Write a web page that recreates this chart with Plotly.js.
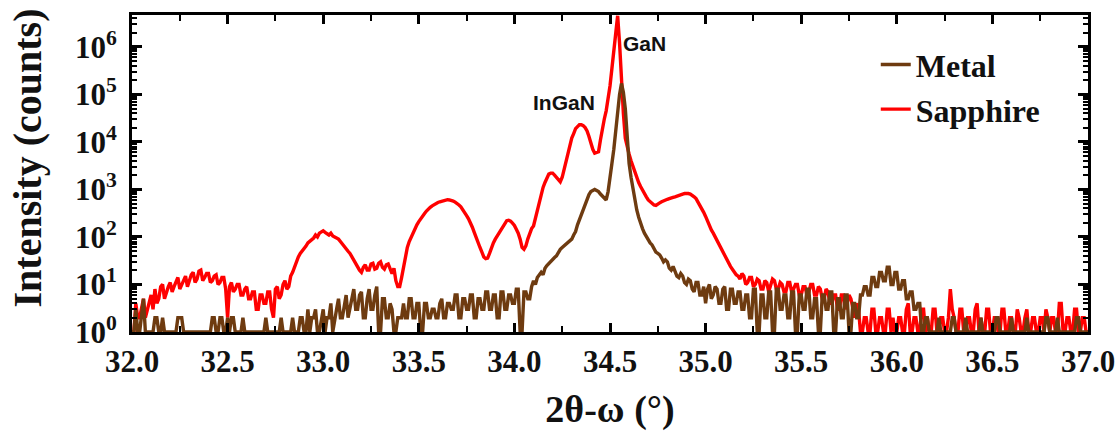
<!DOCTYPE html>
<html>
<head>
<meta charset="utf-8">
<script src="https://cdn.plot.ly/plotly-3.0.1.min.js"></script>
<style>
html,body{margin:0;padding:0;background:#fff;}
#chart{width:1117px;height:433px;}
</style>
</head>
<body>
<div id="chart"></div>
<script>
// 2theta-omega scan angles (deg), 0.01 deg step
const twoTheta = [
32.00,32.01,32.02,32.03,32.04,32.05,32.06,32.07,32.08,32.09,32.10,32.11,32.12,32.13,32.14,32.15,32.16,32.17,32.18,32.19,
32.20,32.21,32.22,32.23,32.24,32.25,32.26,32.27,32.28,32.29,32.30,32.31,32.32,32.33,32.34,32.35,32.36,32.37,32.38,32.39,
32.40,32.41,32.42,32.43,32.44,32.45,32.46,32.47,32.48,32.49,32.50,32.51,32.52,32.53,32.54,32.55,32.56,32.57,32.58,32.59,
32.60,32.61,32.62,32.63,32.64,32.65,32.66,32.67,32.68,32.69,32.70,32.71,32.72,32.73,32.74,32.75,32.76,32.77,32.78,32.79,
32.80,32.81,32.82,32.83,32.84,32.85,32.86,32.87,32.88,32.89,32.90,32.91,32.92,32.93,32.94,32.95,32.96,32.97,32.98,32.99,
33.00,33.01,33.02,33.03,33.04,33.05,33.06,33.07,33.08,33.09,33.10,33.11,33.12,33.13,33.14,33.15,33.16,33.17,33.18,33.19,
33.20,33.21,33.22,33.23,33.24,33.25,33.26,33.27,33.28,33.29,33.30,33.31,33.32,33.33,33.34,33.35,33.36,33.37,33.38,33.39,
33.40,33.41,33.42,33.43,33.44,33.45,33.46,33.47,33.48,33.49,33.50,33.51,33.52,33.53,33.54,33.55,33.56,33.57,33.58,33.59,
33.60,33.61,33.62,33.63,33.64,33.65,33.66,33.67,33.68,33.69,33.70,33.71,33.72,33.73,33.74,33.75,33.76,33.77,33.78,33.79,
33.80,33.81,33.82,33.83,33.84,33.85,33.86,33.87,33.88,33.89,33.90,33.91,33.92,33.93,33.94,33.95,33.96,33.97,33.98,33.99,
34.00,34.01,34.02,34.03,34.04,34.05,34.06,34.07,34.08,34.09,34.10,34.11,34.12,34.13,34.14,34.15,34.16,34.17,34.18,34.19,
34.20,34.21,34.22,34.23,34.24,34.25,34.26,34.27,34.28,34.29,34.30,34.31,34.32,34.33,34.34,34.35,34.36,34.37,34.38,34.39,
34.40,34.41,34.42,34.43,34.44,34.45,34.46,34.47,34.48,34.49,34.50,34.51,34.52,34.53,34.54,34.55,34.56,34.57,34.58,34.59,
34.60,34.61,34.62,34.63,34.64,34.65,34.66,34.67,34.68,34.69,34.70,34.71,34.72,34.73,34.74,34.75,34.76,34.77,34.78,34.79,
34.80,34.81,34.82,34.83,34.84,34.85,34.86,34.87,34.88,34.89,34.90,34.91,34.92,34.93,34.94,34.95,34.96,34.97,34.98,34.99,
35.00,35.01,35.02,35.03,35.04,35.05,35.06,35.07,35.08,35.09,35.10,35.11,35.12,35.13,35.14,35.15,35.16,35.17,35.18,35.19,
35.20,35.21,35.22,35.23,35.24,35.25,35.26,35.27,35.28,35.29,35.30,35.31,35.32,35.33,35.34,35.35,35.36,35.37,35.38,35.39,
35.40,35.41,35.42,35.43,35.44,35.45,35.46,35.47,35.48,35.49,35.50,35.51,35.52,35.53,35.54,35.55,35.56,35.57,35.58,35.59,
35.60,35.61,35.62,35.63,35.64,35.65,35.66,35.67,35.68,35.69,35.70,35.71,35.72,35.73,35.74,35.75,35.76,35.77,35.78,35.79,
35.80,35.81,35.82,35.83,35.84,35.85,35.86,35.87,35.88,35.89,35.90,35.91,35.92,35.93,35.94,35.95,35.96,35.97,35.98,35.99,
36.00,36.01,36.02,36.03,36.04,36.05,36.06,36.07,36.08,36.09,36.10,36.11,36.12,36.13,36.14,36.15,36.16,36.17,36.18,36.19,
36.20,36.21,36.22,36.23,36.24,36.25,36.26,36.27,36.28,36.29,36.30,36.31,36.32,36.33,36.34,36.35,36.36,36.37,36.38,36.39,
36.40,36.41,36.42,36.43,36.44,36.45,36.46,36.47,36.48,36.49,36.50,36.51,36.52,36.53,36.54,36.55,36.56,36.57,36.58,36.59,
36.60,36.61,36.62,36.63,36.64,36.65,36.66,36.67,36.68,36.69,36.70,36.71,36.72,36.73,36.74,36.75,36.76,36.77,36.78,36.79,
36.80,36.81,36.82,36.83,36.84,36.85,36.86,36.87,36.88,36.89,36.90,36.91,36.92,36.93,36.94,36.95,36.96,36.97,36.98,36.99,
37.00];

// Intensity (counts) – Sapphire substrate
const sapphireCounts = [
1,1,4,2,2,3,5,2,3,4,6,3,8,4,5,9,10,5,7,9,
11,7,9,12,14,8,10,13,15,9,12,16,18,11,13,19,20,12,14,17,
17,11,12,15,16,10,11,14,14,8,2,9,11,7,8,10,10,6,6,8,
9,5,5,7,7,3,3,6,6,4,4,7,7,3,2,8,9,5,6,10,
12,8,9,15,18,24,32,38,45,50,55,64,75,80,85,95,110,100,120,130,
135,125,118,110,120,105,100,95,90,80,70,62,55,50,45,38,32,27,24,20,
18,23,26,20,20,27,28,21,22,28,30,23,21,26,27,20,17,22,12,9,
9,14,22,40,60,80,100,125,150,180,210,245,280,310,350,390,420,450,480,510,
530,550,570,590,600,610,600,590,570,540,510,470,430,380,330,280,240,200,160,125,
95,75,60,48,38,35,36,45,62,75,90,105,120,145,170,195,220,225,215,195,
175,145,120,90,60,55,65,90,120,150,170,250,380,550,800,1100,1400,1800,2100,2200,
2200,2000,1800,1600,1450,1800,2600,4000,6000,9000,12000,15000,19000,21000,23000,23000,22000,20000,17000,13000,
9000,7000,5800,5900,6200,11000,20000,30000,45000,80000,150000,350000,900000,2000000,4500000,1200000,150000,40000,12000,7500,
5500,4000,3000,2300,1800,1400,1150,950,800,700,600,550,500,470,460,480,520,550,580,600,
620,640,650,680,700,730,760,780,800,820,830,820,800,760,700,640,550,480,400,330,
270,210,170,140,120,100,85,70,55,48,40,33,28,24,21,18,16,15,13,17,
15,10,11,14,14,9,10,13,12,8,8,12,11,7,9,13,12,8,8,11,
10,7,7,11,11,7,8,10,10,6,6,9,9,6,7,10,10,6,6,9,
8,5,5,8,7,4,4,6,6,3,3,6,6,3,4,6,5,3,2,4,
3,1,1,2,2,1,1,3,3,1,1,2,2,1,1,3,3,1,2,1,
1,2,2,1,1,3,4,1,1,2,2,1,1,3,3,1,2,1,1,3,
3,1,1,2,2,1,1,2,8,3,2,1,1,3,3,1,1,2,2,1,
1,3,4,1,2,1,1,3,3,1,1,2,2,1,1,3,3,1,1,2,
2,1,1,3,2,1,1,2,3,1,1,2,2,1,1,2,2,1,3,2,
1,2,2,1,1,4,4,1,1,2,2,1,1,3,3,1,1,2,2,1,
1];

// Intensity (counts) – Metal substrate
const metalCounts = [
1,1,3,1,1,2,5,1,1,1,1,1,2,2,1,1,2,1,1,1,
1,1,1,1,2,2,2,1,1,1,1,1,1,1,1,1,1,1,1,1,
1,1,2,2,1,1,2,2,1,1,2,1,2,2,1,1,1,1,2,1,
1,1,1,1,1,1,1,1,1,1,2,1,1,1,1,1,1,1,2,1,
1,1,1,1,2,1,1,1,2,2,1,1,3,1,2,2,3,1,1,2,
3,1,2,2,4,1,2,3,5,2,2,4,6,2,3,5,8,3,3,6,
7,2,2,5,8,3,3,6,9,1,1,5,5,2,2,4,3,1,1,2,
2,2,4,2,2,5,5,2,2,4,4,1,1,4,4,2,2,3,3,2,
2,4,5,2,2,4,4,3,3,6,6,2,2,5,5,3,3,6,6,2,
2,5,5,3,3,7,7,3,3,6,6,2,2,7,7,3,3,6,6,4,
4,8,8,1,1,7,7,5,5,9,12,10,14,16,18,16,22,25,28,30,
34,37,40,48,55,60,65,70,75,82,90,110,130,180,230,310,400,500,620,780,
900,960,1000,950,900,800,720,650,600,900,1600,3500,7000,18000,45000,100000,170000,110000,50000,12000,
3500,1800,1000,600,370,260,190,150,120,100,85,75,68,58,48,45,42,36,30,33,
30,22,20,24,19,15,14,17,15,11,10,13,12,8,7,11,11,6,6,9,
4,8,10,5,6,9,8,4,4,8,9,3,3,8,8,4,4,7,7,3,
3,6,6,2,2,8,8,1,1,6,6,2,2,7,7,1,1,8,8,3,
3,6,6,2,2,7,7,1,1,6,6,3,3,8,8,2,2,5,5,1,
1,6,6,3,3,7,7,1,1,5,5,2,2,6,6,1,1,4,4,2,
2,6,6,9,9,6,6,14,14,9,9,18,18,12,12,23,23,10,10,18,
18,8,8,12,12,5,5,7,7,3,3,4,4,1,1,2,2,1,1,1,
1,1,2,1,1,1,1,1,1,2,2,1,1,1,1,1,2,1,1,1,
1,1,1,1,2,1,1,1,1,1,1,1,2,2,1,1,1,1,1,1,
2,1,1,1,1,1,1,1,2,1,1,1,1,1,1,1,1,1,2,2,
1,1,1,1,2,1,1,1,1,1,1,1,1,1,2,2,1,1,1,1,
1];

const seriesNames = ['Sapphire', 'Metal'];
const seriesColors = ['#ff0000', '#6e3b10'];

const xTickVals = [32.0,32.5,33.0,33.5,34.0,34.5,35.0,35.5,36.0,36.5,37.0];
const xTickText = ['32.0','32.5','33.0','33.5','34.0','34.5','35.0','35.5','36.0','36.5','37.0'];
const yTickVals = [1,10,100,1000,10000,100000,1000000];
const yTickText = ['10<sup>0</sup>','10<sup>1</sup>','10<sup>2</sup>','10<sup>3</sup>','10<sup>4</sup>','10<sup>5</sup>','10<sup>6</sup>'];

const xTitle = '2θ-ω (°)';
const yTitle = 'Intensity (counts)';

const peakLabels = ['InGaN', 'GaN'];
const peakLabelX = [34.26, 34.68];
const peakLabelLogY = [4.82, 6.06];

const serif = 'Liberation Serif, Times New Roman, serif';
const sans = 'Liberation Sans, Arial, sans-serif';

const traces = [
  {x: twoTheta, y: sapphireCounts, name: seriesNames[0], type: 'scatter', mode: 'lines',
   line: {color: seriesColors[0], width: 3.4}},
  {x: twoTheta, y: metalCounts, name: seriesNames[1], type: 'scatter', mode: 'lines',
   line: {color: seriesColors[1], width: 3.4}}
];

const annotations = peakLabels.map((t, i) => ({
  x: peakLabelX[i], y: peakLabelLogY[i], xref: 'x', yref: 'y',
  text: t, showarrow: false,
  font: {family: sans, size: 21, color: '#111', weight: 'bold'}
}));
// y-axis title placed as rotated text
annotations.push({
  xref: 'paper', yref: 'paper', x: -0.109, y: 0.55, xanchor: 'center', yanchor: 'middle',
  text: yTitle, textangle: -90, showarrow: false,
  font: {family: serif, size: 40, color: '#111', weight: 'bold'}
});

const layout = {
  width: 1117, height: 433,
  margin: {l: 132, r: 29, t: 15, b: 101, pad: 0},
  paper_bgcolor: '#ffffff', plot_bgcolor: '#ffffff',
  showlegend: true,
  legend: {
    x: 0.778, y: 0.93, xanchor: 'left', yanchor: 'top',
    traceorder: 'reversed', bgcolor: 'rgba(0,0,0,0)',
    font: {family: serif, size: 32, color: '#111', weight: 'bold'},
    itemwidth: 30, tracegroupgap: 0
  },
  xaxis: {
    range: [32, 37], showgrid: false, zeroline: false,
    showline: true, linecolor: '#000', linewidth: 3, mirror: 'ticks',
    ticks: 'inside', ticklen: 9, tickwidth: 3, tickcolor: '#000',
    tickvals: xTickVals, ticktext: xTickText,
    minor: {ticks: 'inside', ticklen: 6, tickwidth: 2, tickcolor: '#000', dtick: 0.25, showgrid: false},
    tickfont: {family: serif, size: 31, color: '#111', weight: 'bold'},
    title: {text: xTitle, font: {family: serif, size: 38, color: '#111', weight: 'bold'}, standoff: 18}
  },
  yaxis: {
    type: 'log', range: [0, 6.67], showgrid: false, zeroline: false,
    showline: true, linecolor: '#000', linewidth: 3, mirror: 'ticks',
    ticks: 'inside', ticklen: 10, tickwidth: 3, tickcolor: '#000',
    tickvals: yTickVals, ticktext: yTickText,
    minor: {ticks: 'inside', ticklen: 5, tickwidth: 2, tickcolor: '#000', dtick: 'D1', showgrid: false},
    tickfont: {family: serif, size: 31, color: '#111', weight: 'bold'},
    ticklabelstandoff: 6
  },
  annotations: annotations
};

Plotly.newPlot('chart', traces, layout, {staticPlot: true, displayModeBar: false});
</script>
</body>
</html>
